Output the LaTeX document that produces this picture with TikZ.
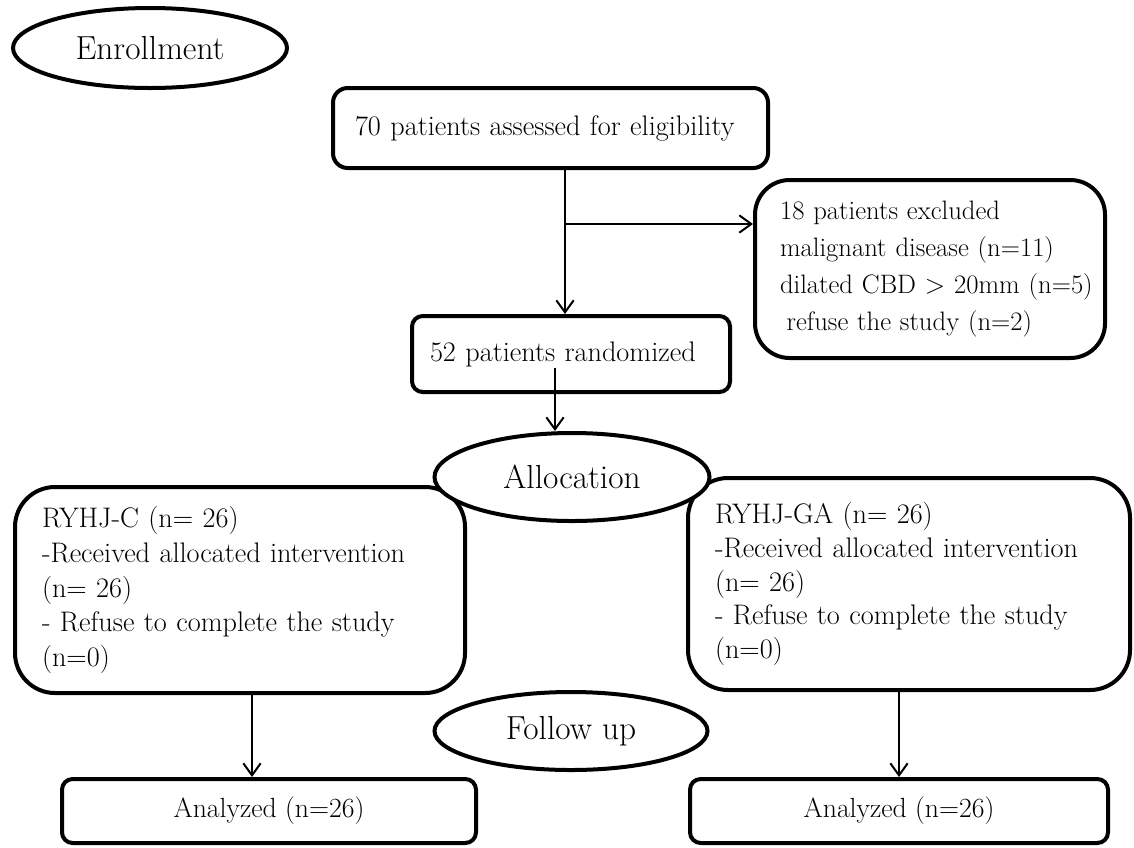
\documentclass[tikz,border=0pt]{standalone}
\usetikzlibrary{shapes.geometric,arrows.meta,calc}
\begin{document}
\begin{tikzpicture}[x=0.75pt,y=-0.75pt,
  txt/.style={font=\fontsize{21.2}{26}\selectfont},
  lbl/.style={font=\fontsize{25}{28}\selectfont},
  box/.style={draw,line width=3pt,rounded corners=#1,inner ysep=0pt,align=left,txt},
  oval/.style={draw,ellipse,line width=3pt,fill=white,inner sep=0pt,lbl},
  arr/.style={line width=1.5pt,-{Straight Barb[length=9pt,width=13pt]}}]
\useasboundingbox (0,0) rectangle (1134,847);

\node[oval,minimum width=205.5pt,minimum height=60pt] (enroll) at (150,48) {\raisebox{-4pt}{Enrollment}};

\node[box=11pt,minimum width=326.25pt,minimum height=60pt,inner xsep=16.5pt,text width=293.25pt] (assess) at (550.5,128) {70 patients assessed for eligibility};

\node[box=26pt,minimum width=262.5pt,minimum height=133.5pt,inner xsep=18.75pt,text width=225pt,font=\fontsize{20}{27.9}\selectfont] (excl) at (930,269)
  {18 patients excluded\\ \mbox{malignant disease (n=11)}\\ \mbox{dilated CBD > 20mm (n=5)}\\ \mbox{\hspace{5pt}refuse the study (n=2)}};

\node[box=8pt,minimum width=238.5pt,minimum height=57pt,inner xsep=13.5pt,text width=211.5pt] (rand) at (571,354) {52 patients randomized};

\node[box=30pt,minimum width=337.5pt,minimum height=154.5pt,inner xsep=20.25pt,text width=297pt,font=\fontsize{21.2}{25.9}\selectfont] (C) at (240,590)
  {RYHJ-C (n= 26)\\ \mbox{-Received allocated intervention}\\ (n= 26)\\ \mbox{- Refuse to complete the study}\\ (n=0)};

\node[box=30pt,minimum width=331.5pt,minimum height=159pt,inner xsep=20.25pt,text width=291pt,font=\fontsize{21.2}{25.3}\selectfont] (GA) at (909,584)
  {RYHJ-GA (n= 26)\\ \mbox{-Received allocated intervention}\\ (n= 26)\\ \mbox{- Refuse to complete the study}\\ (n=0)};

\node[box=8pt,align=center,minimum width=310.5pt,minimum height=48pt,font=\fontsize{20.8}{24}\selectfont] (an1) at (269,811) {Analyzed (n=26)};
\node[box=8pt,align=center,minimum width=313.5pt,minimum height=48pt,font=\fontsize{20.8}{24}\selectfont] (an2) at (899,811) {Analyzed (n=26)};

\node[oval,minimum width=206.25pt,minimum height=66pt] (alloc) at (572,477) {Allocation};
\node[oval,minimum width=204.75pt,minimum height=58.5pt] (follow) at (571,731) {\raisebox{-4pt}{Follow up}};

\coordinate (j) at (565,224);
\coordinate (ra) at (555,368);
\coordinate (lx) at (252,0);

\draw[arr] (assess.south -| j) -- (rand.north -| j);
\draw[arr] (j) -- (excl.west |- j);
\draw[arr] (ra) -- (alloc.north -| ra);
\draw[arr] (C.south -| lx) -- (an1.north -| lx);
\draw[arr] (GA.south -| an2.north) -- (an2.north);
\end{tikzpicture}
\end{document}
